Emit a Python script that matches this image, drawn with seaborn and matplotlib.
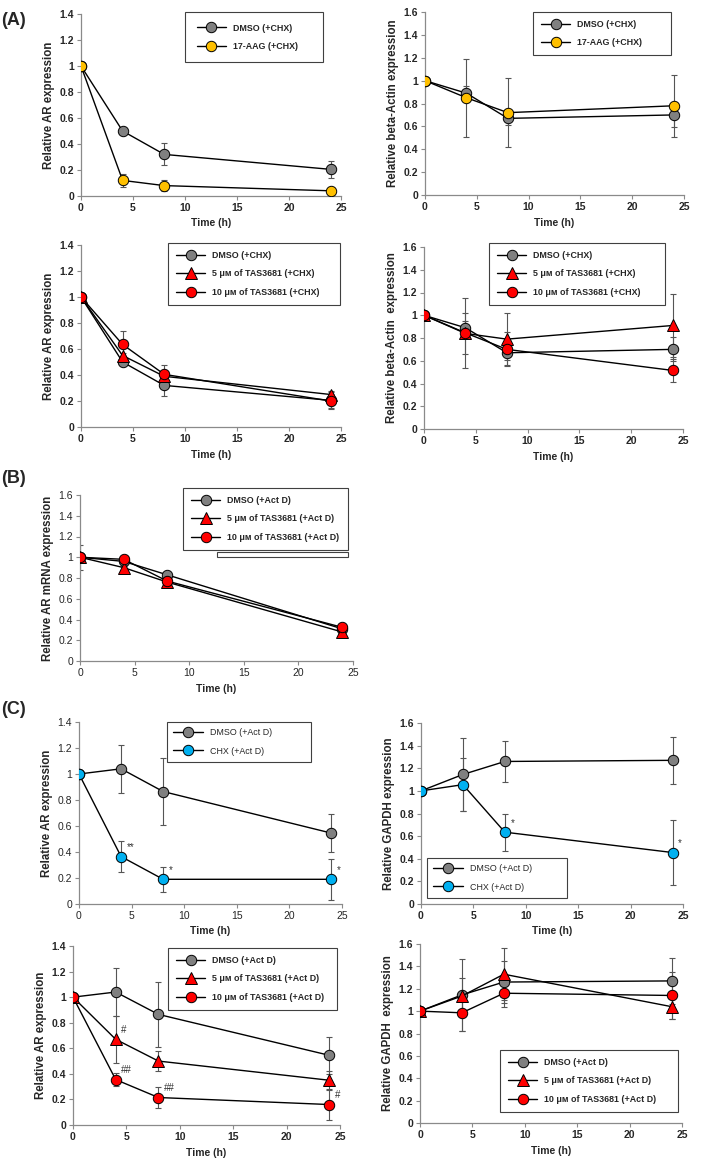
import matplotlib
matplotlib.use("Agg")
import matplotlib.pyplot as plt
import seaborn as sns
from matplotlib.patches import Rectangle
from matplotlib.ticker import FuncFormatter

sns.set_style("ticks")
plt.rcParams['font.family'] = ['Liberation Sans', 'DejaVu Sans']

time_h = [0, 4, 8, 24]

# (A) protein after CHX
a_dmso_ar = [1.0, 0.50, 0.32, 0.205]
a_dmso_ar_err = [0.0, 0.02, 0.085, 0.065]
a_aag_ar = [1.0, 0.12, 0.08, 0.04]
a_aag_ar_err = [0.0, 0.05, 0.045, 0.01]
a_dmso_act = [1.0, 0.89, 0.67, 0.70]
a_dmso_act_err = [0.0, 0.06, 0.06, 0.105]
a_aag_act = [1.0, 0.85, 0.72, 0.78]
a_aag_act_err = [0.0, 0.34, 0.30, 0.27]
a_tas5_ar = [1.0, 0.55, 0.39, 0.25]
a_tas5_ar_err = [0.0, 0.02, 0.03, 0.03]
a_tas10_ar = [1.0, 0.635, 0.405, 0.20]
a_tas10_ar_err = [0.0, 0.10, 0.075, 0.055]
a_tas5_act = [1.0, 0.84, 0.79, 0.91]
a_tas5_act_err = [0.0, 0.18, 0.23, 0.28]
a_tas10_act = [1.0, 0.845, 0.70, 0.515]
a_tas10_act_err = [0.0, 0.305, 0.15, 0.10]

# (B) mRNA after Act D
b_dmso = [1.0, 0.96, 0.83, 0.31]
b_dmso_err = [0.12, 0.01, 0.02, 0.01]
b_tas5 = [1.0, 0.90, 0.76, 0.28]
b_tas5_err = [0.0, 0.02, 0.03, 0.02]
b_tas10 = [1.0, 0.98, 0.77, 0.325]
b_tas10_err = [0.0, 0.01, 0.02, 0.01]

# (C) protein after Act D
c_dmso_ar = [1.0, 1.04, 0.865, 0.545]
c_dmso_ar_err = [0.0, 0.185, 0.255, 0.145]
c_chx_ar = [1.0, 0.365, 0.19, 0.19]
c_chx_ar_err = [0.0, 0.12, 0.095, 0.16]
c_dmso_gapdh = [1.0, 1.145, 1.26, 1.27]
c_dmso_gapdh_err = [0.0, 0.32, 0.185, 0.205]
c_chx_gapdh = [1.0, 1.055, 0.635, 0.455]
c_chx_gapdh_err = [0.0, 0.235, 0.165, 0.29]
c_tas5_ar = [1.0, 0.67, 0.50, 0.35]
c_tas5_ar_err = [0.0, 0.185, 0.08, 0.075]
c_tas10_ar = [1.0, 0.355, 0.215, 0.16]
c_tas10_ar_err = [0.0, 0.05, 0.08, 0.12]
c_tas5_gapdh = [1.0, 1.135, 1.33, 1.04]
c_tas5_gapdh_err = [0.0, 0.165, 0.235, 0.11]
c_tas10_gapdh = [1.0, 0.985, 1.16, 1.14]
c_tas10_gapdh_err = [0.0, 0.165, 0.12, 0.21]

# significance marks
c_chx_ar_marks = ['', '**', '*', '*']
c_chx_gapdh_marks = ['', '', '*', '*']
c_tas5_ar_marks = ['', '#', '', '']
c_tas10_ar_marks = ['', '##', '##', '#']

GREY = '#808080'
YEL = '#FFC000'
RED = '#FF0000'
BLUE = '#00B0F0'

W, H = 709, 1159
fig = plt.figure(figsize=(W / 100, H / 100), dpi=100)


def px_axes(l, t, r, b):
    return fig.add_axes([l / W, 1 - b / H, (r - l) / W, (b - t) / H])


def draw(box, series, ymax, ylabel, leg_box, tick_bold=True, leg_bold=True,
         borderpad=1.2, marks=None):
    ax = px_axes(*box)
    for vals, errs, name, face, mk in series:
        ax.errorbar(time_h, vals, yerr=errs, fmt='none', ecolor='#555555',
                    elinewidth=0.8, capsize=2.5, capthick=0.8, zorder=1)
        sns.lineplot(x=time_h, y=vals, ax=ax, color='black', lw=1, marker=mk,
                     markersize=7.5 if mk == 'o' else 8, markerfacecolor=face,
                     markeredgecolor='black', markeredgewidth=0.7, label=name, zorder=3)
    if marks:
        for vals, labels in marks:
            for x, y, s in zip(time_h, vals, labels):
                if s:
                    ax.annotate(s, (x, y), xytext=(4, 3), textcoords='offset points',
                                ha='left', va='bottom', fontsize=7, color='#333333')
    ax.set_xlim(0, 25)
    ax.set_ylim(0, ymax)
    ax.set_xticks([0, 5, 10, 15, 20, 25])
    ax.set_yticks([i * 0.2 for i in range(int(round(ymax / 0.2)) + 1)])
    ax.yaxis.set_major_formatter(FuncFormatter(lambda v, p: '%g' % round(v, 1)))
    for s in ['top', 'right']:
        ax.spines[s].set_visible(False)
    for s in ['left', 'bottom']:
        ax.spines[s].set_color('#8a8a8a')
        ax.spines[s].set_linewidth(0.9)
    ax.tick_params(direction='out', length=3, width=0.8, color='#8a8a8a',
                   labelsize=7.5, pad=2, labelcolor='#262626')
    for lab in ax.get_xticklabels() + ax.get_yticklabels():
        lab.set_fontweight('bold' if tick_bold else 'normal')
    ax.set_xlabel('Time (h)', fontsize=7.5, fontweight='bold', labelpad=4)
    ax.set_ylabel(ylabel, fontsize=8.3, fontweight='bold', labelpad=3)
    l, t, r, b = leg_box
    leg = ax.legend(loc='upper left', bbox_to_anchor=(l / W, 1 - t / H, (r - l) / W, 0.0),
                    bbox_transform=fig.transFigure, mode='expand', fancybox=False,
                    edgecolor='#404040', framealpha=1, fontsize=6.4, handlelength=3.3,
                    handletextpad=0.8, labelspacing=1.05, borderpad=borderpad,
                    borderaxespad=0)
    leg.get_frame().set_linewidth(0.8)
    for txt in leg.get_texts():
        txt.set_fontweight('bold' if leg_bold else 'normal')
    return ax


# (A)
draw((81, 14, 341, 196),
     [(a_dmso_ar, a_dmso_ar_err, 'DMSO (+CHX)', GREY, 'o'),
      (a_aag_ar, a_aag_ar_err, '17-AAG (+CHX)', YEL, 'o')],
     1.4, 'Relative AR expression', (185, 12, 323, 65), borderpad=1.3)
draw((425, 12, 684, 195),
     [(a_dmso_act, a_dmso_act_err, 'DMSO (+CHX)', GREY, 'o'),
      (a_aag_act, a_aag_act_err, '17-AAG (+CHX)', YEL, 'o')],
     1.6, 'Relative beta-Actin expression', (533, 12, 671, 58), borderpad=0.9)
draw((81, 245, 341, 427),
     [(a_dmso_ar, a_dmso_ar_err, 'DMSO (+CHX)', GREY, 'o'),
      (a_tas5_ar, a_tas5_ar_err, '5 μм of TAS3681 (+CHX)', RED, '^'),
      (a_tas10_ar, a_tas10_ar_err, '10 μм of TAS3681 (+CHX)', RED, 'o')],
     1.4, 'Relative AR expression', (168, 243, 340, 308), borderpad=0.9)
draw((424, 247, 683, 429),
     [(a_dmso_act, a_dmso_act_err, 'DMSO (+CHX)', GREY, 'o'),
      (a_tas5_act, a_tas5_act_err, '5 μм of TAS3681 (+CHX)', RED, '^'),
      (a_tas10_act, a_tas10_act_err, '10 μм of TAS3681 (+CHX)', RED, 'o')],
     1.6, 'Relative beta-Actin  expression', (489, 243, 665, 308), borderpad=0.9)

# (B)
draw((80, 495, 353, 661),
     [(b_dmso, b_dmso_err, 'DMSO (+Act D)', GREY, 'o'),
      (b_tas5, b_tas5_err, '5 μм of TAS3681 (+Act D)', RED, '^'),
      (b_tas10, b_tas10_err, '10 μм of TAS3681 (+Act D)', RED, 'o')],
     1.6, 'Relative AR mRNA expression', (183, 488, 348, 552), tick_bold=False,
     borderpad=0.9)
fig.add_artist(Rectangle((217 / W, 1 - 557 / H), (348 - 217) / W, 5 / H,
                         transform=fig.transFigure, fill=False, ec='#404040', lw=0.8))

# (C)
draw((79, 722, 342, 904),
     [(c_dmso_ar, c_dmso_ar_err, 'DMSO (+Act D)', GREY, 'o'),
      (c_chx_ar, c_chx_ar_err, 'CHX (+Act D)', BLUE, 'o')],
     1.4, 'Relative AR expression', (167, 722, 311, 763), tick_bold=False,
     leg_bold=False, borderpad=0.7, marks=[(c_chx_ar, c_chx_ar_marks)])
draw((421, 723, 683, 904),
     [(c_dmso_gapdh, c_dmso_gapdh_err, 'DMSO (+Act D)', GREY, 'o'),
      (c_chx_gapdh, c_chx_gapdh_err, 'CHX (+Act D)', BLUE, 'o')],
     1.6, 'Relative GAPDH expression', (427, 858, 567, 900), leg_bold=False,
     borderpad=0.7, marks=[(c_chx_gapdh, c_chx_gapdh_marks)])
draw((73, 946, 340, 1125),
     [(c_dmso_ar, c_dmso_ar_err, 'DMSO (+Act D)', GREY, 'o'),
      (c_tas5_ar, c_tas5_ar_err, '5 μм of TAS3681 (+Act D)', RED, '^'),
      (c_tas10_ar, c_tas10_ar_err, '10 μм of TAS3681 (+Act D)', RED, 'o')],
     1.4, 'Relative AR expression', (168, 948, 337, 1011), borderpad=0.9,
     marks=[(c_tas5_ar, c_tas5_ar_marks), (c_tas10_ar, c_tas10_ar_marks)])
draw((420, 944, 682, 1123),
     [(c_dmso_gapdh, c_dmso_gapdh_err, 'DMSO (+Act D)', GREY, 'o'),
      (c_tas5_gapdh, c_tas5_gapdh_err, '5 μм of TAS3681 (+Act D)', RED, '^'),
      (c_tas10_gapdh, c_tas10_gapdh_err, '10 μм of TAS3681 (+Act D)', RED, 'o')],
     1.6, 'Relative GAPDH  expression', (500, 1050, 678, 1115), borderpad=0.9)

for lab, y in [('(A)', 12), ('(B)', 470), ('(C)', 701)]:
    fig.text(1 / W, 1 - y / H, lab, fontsize=13, fontweight='bold', va='top', ha='left')

fig.savefig('out.png', dpi=100)
